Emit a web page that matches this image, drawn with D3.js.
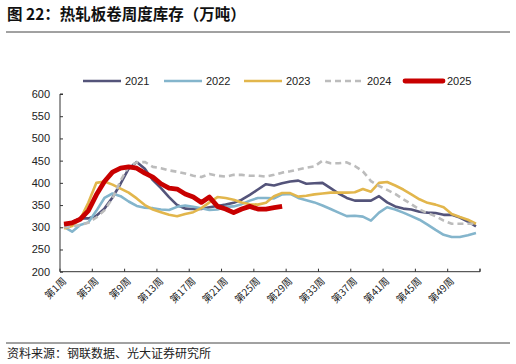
<!DOCTYPE html>
<html>
<head>
<meta charset="utf-8">
<script src="https://cdn.jsdelivr.net/npm/d3@7"></script>
<style>
  body { margin: 0; background: #fff; }
  text { font-family: "Liberation Sans", Arial, "Noto Sans CJK SC", sans-serif; }
  .cn { font-family: "Noto Sans CJK SC", sans-serif; }
</style>
</head>
<body>
<svg width="516" height="364"></svg>
<script>
// weeks 1..52
const weeks = d3.range(1, 53)
const tick_weeks = [1, 5, 9, 13, 17, 21, 25, 29, 33, 37, 41, 45, 49]
const y_ticks = [200, 250, 300, 350, 400, 450, 500, 550, 600]

const s2021 = [305, 312, 320, 320, 326, 342, 367, 398, 432, 447, 432, 406, 388, 368, 350, 342, 341, 341, 345, 348,
    351, 355, 362, 373, 385, 397, 394, 399, 403, 405, 398, 399, 400, 388, 376, 366, 360, 360, 360, 370,
    356, 347, 342, 340, 335, 333, 332, 328, 328, 322, 313, 302]
const s2022 = [301, 290, 305, 311, 337, 366, 376, 370, 358, 348, 344, 343, 340, 339, 346, 349, 346, 343, 339, 340,
    346, 347, 352, 360, 366, 366, 365, 374, 375, 366, 361, 356, 349, 341, 333, 325, 326, 324, 315, 333,
    345, 340, 333, 325, 317, 306, 294, 283, 278, 278, 282, 287]
const s2023 = [297, 303, 318, 355, 400, 403, 396, 387, 378, 365, 350, 340, 334, 328, 325, 330, 334, 343, 356, 368,
    366, 362, 356, 352, 351, 355, 370, 377, 377, 369, 371, 374, 376, 378, 378, 378, 379, 386, 380, 400,
    402, 394, 385, 374, 363, 355, 351, 345, 330, 323, 317, 308]
const s2024 = [300, 302, 305, 310, 322, 338, 365, 405, 437, 446, 447, 436, 433, 428, 425, 421, 416, 413, 420, 416,
    414, 418, 418, 416, 416, 414, 418, 423, 426, 430, 434, 437, 450, 444, 444, 446, 438, 426, 404, 393,
    384, 375, 363, 352, 340, 332, 325, 315, 308, 308, 308, 308]
const s2025 = [307, 310, 318, 337, 373, 403, 424, 433, 436, 433, 422, 413, 398, 388, 386, 375, 368, 356, 368, 347,
    341, 333, 341, 347, 341, 341, 344, 347]

const series = [
    { name: '2021', values: s2021, color: '#54547a', width: 2.6, dash: null },
    { name: '2022', values: s2022, color: '#84b5cc', width: 2.6, dash: null },
    { name: '2023', values: s2023, color: '#e2b64c', width: 2.6, dash: null },
    { name: '2024', values: s2024, color: '#bcbcbc', width: 2.6, dash: '6,4' },
    { name: '2025', values: s2025, color: '#c80000', width: 4.8, dash: null }
]

const svg = d3.select('svg')
const axis_color = '#333'

// title
svg.append('text')
    .attr('class', 'cn')
    .attr('x', 7).attr('y', 20)
    .style('font-size', '15.5px').style('font-weight', 'bold').style('fill', '#111')
    .text('图 22：热轧板卷周度库存（万吨）')
svg.append('line')
    .attr('x1', 6).attr('x2', 510).attr('y1', 32).attr('y2', 32)
    .style('stroke', '#444').style('stroke-width', 1)

// footer
svg.append('line')
    .attr('x1', 6).attr('x2', 510).attr('y1', 343).attr('y2', 343)
    .style('stroke', '#444').style('stroke-width', 1)
svg.append('text')
    .attr('class', 'cn')
    .attr('x', 7).attr('y', 358)
    .style('font-size', '12px').style('fill', '#222')
    .text('资料来源：钢联数据、光大证券研究所')

// scales
const x = d3.scaleBand()
    .domain(weeks)
    .range([60, 480])
    .padding(0)
const y = d3.scaleLinear()
    .domain([200, 600])
    .range([271.7, 94])
const cx = (i) => x(i) + x.bandwidth() / 2

// y axis
const yAxis = svg.append('g')
    .attr('transform', 'translate(60,0)')
    .call(d3.axisRight(y).tickValues(y_ticks).tickSize(3).tickFormat(''))
yAxis.select('.domain').attr('d', 'M3,' + y(600) + 'H0V' + y(200))
yAxis.selectAll('line, path').style('stroke', axis_color)
svg.selectAll('.ylab')
    .data(y_ticks)
    .enter().append('text')
    .attr('x', 50).attr('y', (d) => y(d) + 4)
    .attr('text-anchor', 'end')
    .style('font-size', '11px').style('fill', '#222')
    .text((d) => d)

// x axis: ticks between categories, pointing up
const boundaries = d3.range(0, 53, 4).map((i) => 60 + i * x.bandwidth())
boundaries.push(480)
svg.append('line')
    .attr('x1', 60).attr('x2', 480).attr('y1', y(200)).attr('y2', y(200))
    .style('stroke', axis_color)
svg.selectAll('.xtick')
    .data(boundaries)
    .enter().append('line')
    .attr('x1', (d) => d).attr('x2', (d) => d)
    .attr('y1', y(200)).attr('y2', y(200) - 3)
    .style('stroke', axis_color)
svg.selectAll('.xlab')
    .data(tick_weeks)
    .enter().append('text')
    .attr('class', 'cn')
    .attr('text-anchor', 'end')
    .attr('transform', (d) => 'translate(' + (cx(d) + 3) + ',' + (y(200) + 10) + ')rotate(-45)')
    .style('font-size', '10px').style('fill', '#222')
    .text((d) => '第' + d + '周')

// lines
const line = d3.line()
    .x((d, i) => cx(i + 1))
    .y((d) => y(d))

series.forEach(function (s) {
    svg.append('path')
        .datum(s.values)
        .attr('d', line)
        .style('fill', 'none')
        .style('stroke', s.color)
        .style('stroke-width', s.width)
        .style('stroke-linejoin', 'round')
        .style('stroke-dasharray', s.dash)
})

// legend
const legend_x = [83, 164, 244, 325, 405]
series.forEach(function (s, i) {
    const g = svg.append('g').attr('transform', 'translate(' + legend_x[i] + ',81)')
    g.append('line')
        .attr('x1', 0).attr('x2', 38)
        .style('stroke', s.color)
        .style('stroke-width', s.width)
        .style('stroke-linecap', s.name === '2025' ? 'round' : 'butt')
        .style('stroke-dasharray', s.dash)
    g.append('text')
        .attr('x', 42).attr('y', 4)
        .style('font-size', '11px').style('fill', '#222')
        .text(s.name)
})
</script>
</body>
</html>
